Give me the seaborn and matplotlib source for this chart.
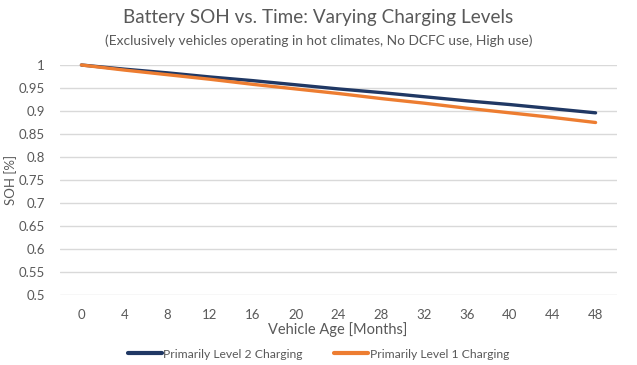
import matplotlib
matplotlib.use("Agg")
import matplotlib.pyplot as plt
import seaborn as sns
import pandas as pd
from matplotlib.lines import Line2D

months = [0, 4, 8, 12, 16, 20, 24, 28, 32, 36, 40, 44, 48]
level2 = [1.0, 0.991, 0.983, 0.974, 0.966, 0.957, 0.948, 0.940, 0.931, 0.922, 0.914, 0.905, 0.896]
level1 = [1.0, 0.989, 0.979, 0.969, 0.958, 0.948, 0.938, 0.927, 0.917, 0.906, 0.896, 0.886, 0.875]
series_names = ["Primarily Level 2 Charging", "Primarily Level 1 Charging"]
x_ticks = list(range(0, 49, 4))
y_ticks = [0.5, 0.55, 0.6, 0.65, 0.7, 0.75, 0.8, 0.85, 0.9, 0.95, 1.0]
y_tick_labels = ["0.5", "0.55", "0.6", "0.65", "0.7", "0.75", "0.8", "0.85", "0.9", "0.95", "1"]

df = pd.DataFrame({
    "Month": months * 2,
    "SOH": level2 + level1,
    "Series": [series_names[0]] * len(months) + [series_names[1]] * len(months),
})

sns.set_theme(style="white")
plt.rcParams["font.family"] = ["Lato", "DejaVu Sans"]
gray = "#595959"

fig = plt.figure(figsize=(6.37, 3.65), dpi=100)
ax = fig.add_axes([60 / 637, 1 - 295 / 365, (617 - 60) / 637, (295 - 65) / 365])

palette = {series_names[0]: "#203864", series_names[1]: "#ED7D31"}
sns.lineplot(data=df, x="Month", y="SOH", hue="Series", palette=palette,
             linewidth=2.4, ax=ax, legend=False, zorder=3)

ax.set_xlim(-2, 50)
ax.set_ylim(0.5, 1.0)
ax.set_xticks(x_ticks)
ax.set_xticklabels([str(t) for t in x_ticks])
ax.set_yticks(y_ticks)
ax.set_yticklabels(y_tick_labels)
ax.tick_params(axis="both", colors=gray, labelsize=9.5, length=0)
ax.tick_params(axis="x", pad=10)
ax.tick_params(axis="y", pad=11)
ax.yaxis.grid(True, color="#D9D9D9", linewidth=1)
ax.xaxis.grid(False)
for s in ax.spines.values():
    s.set_visible(False)
ax.set_xlabel("")
ax.set_ylabel("")
for line in ax.lines:
    line.set_clip_on(False)

fig.text(338 / 637, 1 - 330 / 365, "Vehicle Age [Months]", ha="center", va="center",
         fontsize=10.5, color=gray)
fig.text(11 / 637, 1 - 180 / 365, "SOH [%]", ha="center", va="center",
         rotation=90, fontsize=9.5, color=gray)

fig.text(0.5, 1 - 18 / 365, "Battery SOH vs. Time: Varying Charging Levels",
         ha="center", va="center", fontsize=13.6, color=gray)
fig.text(0.5, 1 - 41 / 365,
         "(Exclusively vehicles operating in hot climates, No DCFC use, High use)",
         ha="center", va="center", fontsize=9.9, color=gray)

handles = [Line2D([0], [0], color=palette[n], linewidth=3) for n in series_names]
fig.legend(handles, series_names, loc="center", bbox_to_anchor=(0.5, 1 - 354 / 365),
           ncol=2, frameon=False, fontsize=8.7, labelcolor=gray,
           handlelength=2.8, handletextpad=0.15, columnspacing=2.6)

fig.savefig("out.png", dpi=100)
